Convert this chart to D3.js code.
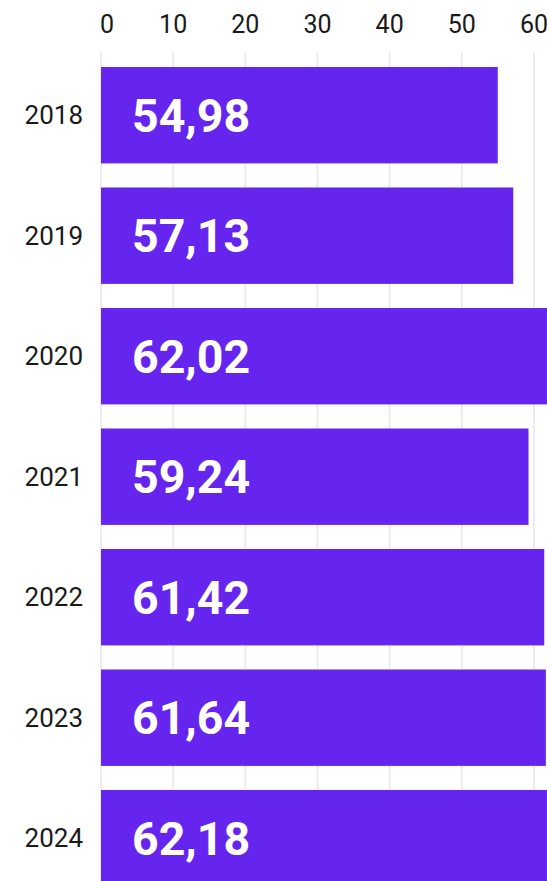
<!DOCTYPE html>
<html>
<head>
<meta charset="utf-8">
<script src="https://cdn.jsdelivr.net/npm/d3@7"></script>
<style>
  html, body { margin: 0; padding: 0; background: #fff; }
  svg { display: block; font-family: Roboto, "Noto Sans", sans-serif; }
</style>
</head>
<body>
<svg id="chart" width="547" height="881"></svg>
<script>
const years = ["2018", "2019", "2020", "2021", "2022", "2023", "2024"];
const values = [54.98, 57.13, 62.02, 59.24, 61.42, 61.64, 62.18];
const valueLabels = ["54,98", "57,13", "62,02", "59,24", "61,42", "61,64", "62,18"];
const ticks = [0, 10, 20, 30, 40, 50, 60];

const W = 547, H = 881;
const svg = d3.select("#chart");

const x = d3.scaleLinear().domain([0, 60]).range([101, 534]);
const y = d3.scaleBand().domain(years).range([67, 886.4]).paddingInner(0.2).paddingOuter(0);

// gridlines
svg.append("g").selectAll("line").data(ticks).join("line")
  .attr("x1", d => x(d)).attr("x2", d => x(d))
  .attr("y1", 52).attr("y2", H)
  .attr("stroke", "#ececec").attr("stroke-width", 2);

// tick labels
svg.append("g").selectAll("text").data(ticks).join("text")
  .attr("x", d => x(d) + (d === 0 ? -1 : 0))
  .attr("y", 33)
  .attr("text-anchor", d => d === 0 ? "start" : "middle")
  .attr("font-size", 25)
  .attr("fill", "#1a1a1a")
  .text(d => d);

// bars
svg.append("g").selectAll("rect").data(years).join("rect")
  .attr("x", x(0))
  .attr("y", d => y(d))
  .attr("width", (d, i) => x(values[i]) - x(0))
  .attr("height", y.bandwidth())
  .attr("fill", "#6625ef");

// year labels
svg.append("g").selectAll("text").data(years).join("text")
  .attr("x", 83)
  .attr("y", d => y(d) + y.bandwidth() / 2)
  .attr("dy", "0.355em")
  .attr("text-anchor", "end")
  .attr("font-size", 26)
  .attr("fill", "#1a1a1a")
  .text(d => d);

// value labels
svg.append("g").selectAll("text").data(years).join("text")
  .attr("x", x(0) + 31)
  .attr("y", d => y(d) + y.bandwidth() / 2)
  .attr("dy", "0.355em")
  .attr("font-size", 46.5)
  .attr("font-weight", 700)
  .attr("fill", "#ffffff")
  .text((d, i) => valueLabels[i]);
</script>
</body>
</html>
